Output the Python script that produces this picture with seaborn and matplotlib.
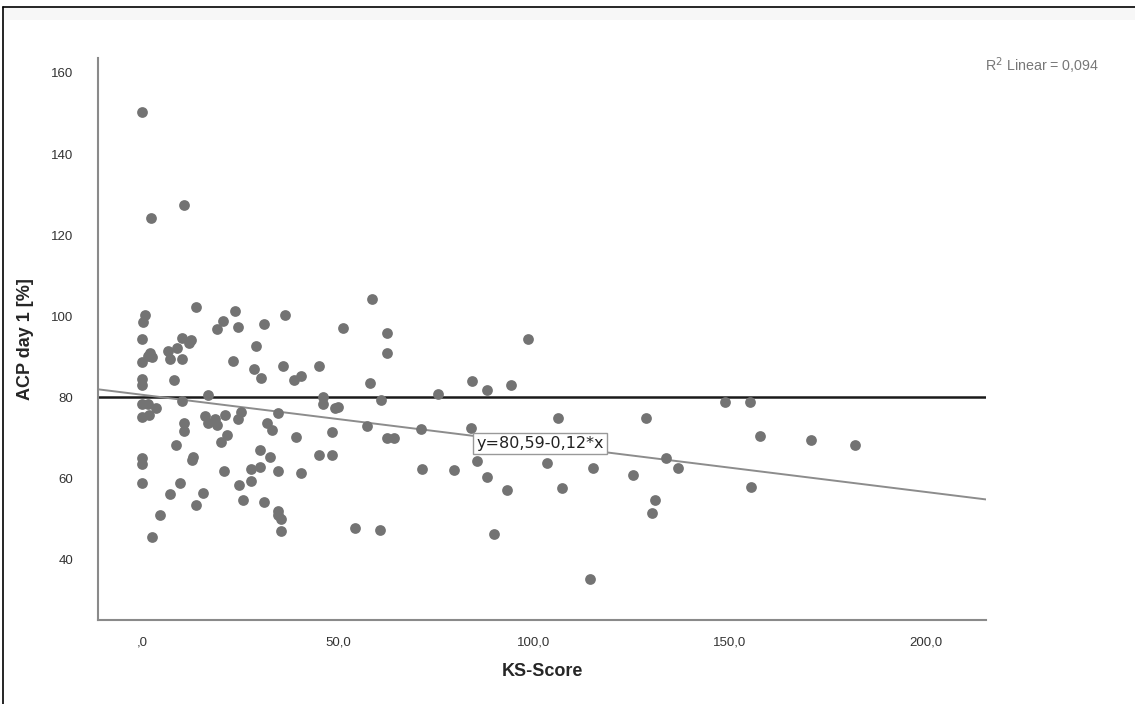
import matplotlib
matplotlib.use("Agg")
import matplotlib.pyplot as plt
import seaborn as sns
import pandas as pd
from matplotlib.lines import Line2D
from matplotlib.patches import Rectangle

# ---- data ----
ks_score = [
    0, 2.3, 10.7, 0.8, 0.2, 13.8, 23.7, 20.6, 19.1, 24.4, 31.2, 36.6,
    0, 10.1, 9.0, 6.7, 12.1, 12.6, 29.0, 2.0, 1.6, 2.5, 0, 7.1, 10.1, 23.3,
    28.6, 36.0, 30.3, 0, 0, 8.2, 16.9, 0, 1.6, 3.6, 10.1, 0, 1.9, 16.1,
    16.9, 18.6, 19.1, 21.2, 24.6, 25.4, 34.6, 10.7, 10.7, 31.8, 33.2, 21.6,
    20.2, 8.8, 30.1, 32.7, 13.1, 12.7, 0, 0, 27.9, 30.1, 21.0, 34.7, 0,
    9.7, 24.7, 27.8, 7.1, 15.5, 25.8, 13.8, 31.2, 34.6, 34.7, 35.6, 35.6,
    4.6, 2.6, 58.8, 51.4, 62.4, 62.4, 38.8, 40.6, 45.2, 58.2, 84.3, 88.1,
    75.6, 46.2, 46.2, 49.2, 50.0, 60.9, 57.5, 71.1, 83.9, 48.4, 39.3, 62.4,
    64.3, 45.2, 48.4, 85.4, 71.4, 79.7, 40.7, 88.0, 54.3, 60.7, 89.8, 98.6,
    94.1, 148.7, 106.2, 128.5, 103.2, 115.1, 125.2, 133.6, 136.7, 93.2,
    107.2, 130.9, 130.2, 114.4, 155.1, 157.7, 170.7, 181.9, 155.3,
]
acp_day1 = [
    150.3, 124.3, 127.3, 100.2, 98.6, 102.3, 101.3, 98.8, 96.8, 97.2, 98.0,
    100.2, 94.3, 94.7, 92.2, 91.4, 93.4, 94.2, 92.7, 91.0, 90.1, 89.8, 88.7,
    89.3, 89.3, 88.9, 86.9, 87.6, 84.7, 84.6, 83.0, 84.3, 80.5, 78.4, 78.4,
    77.4, 79.1, 75.0, 75.6, 75.3, 73.5, 74.5, 73.1, 75.7, 74.7, 76.4, 76.2,
    73.5, 71.6, 73.5, 72.0, 70.6, 69.0, 68.1, 66.9, 65.3, 65.3, 64.6, 64.9,
    63.6, 62.2, 62.8, 61.7, 61.7, 58.7, 58.7, 58.4, 59.3, 56.0, 56.4, 54.6,
    53.5, 54.1, 51.9, 50.9, 49.9, 46.9, 51.0, 45.5, 104.2, 97.1, 95.9, 90.9,
    84.2, 85.3, 87.7, 83.4, 84.0, 81.7, 80.8, 80.1, 78.2, 77.4, 77.6, 79.4,
    72.9, 72.1, 72.5, 71.4, 70.2, 70.0, 69.8, 65.8, 65.6, 64.3, 62.2, 62.0,
    61.2, 60.4, 47.6, 47.2, 46.2, 94.3, 82.9, 78.8, 74.9, 74.9, 63.8, 62.4,
    60.7, 64.9, 62.4, 57.2, 57.7, 54.7, 51.5, 35.0, 78.7, 70.4, 69.5, 68.1,
    57.9,
]
reference_level = 80
fit_intercept = 80.59
fit_slope = -0.12
x_ticks = [0, 50, 100, 150, 200]
x_tick_labels = [",0", "50,0", "100,0", "150,0", "200,0"]
y_ticks = [40, 60, 80, 100, 120, 140, 160]
y_tick_labels = ["40", "60", "80", "100", "120", "140", "160"]
x_label = "KS-Score"
y_label = "ACP day 1 [%]"
fit_label = "y=80,59-0,12*x"
r2_label = "R$^2$ Linear = 0,094"

df = pd.DataFrame({"ks": ks_score, "acp": acp_day1})

# ---- figure ----
sns.set_style("white")
plt.rcParams["font.family"] = ["Liberation Sans", "DejaVu Sans"]

fig = plt.figure(figsize=(11.35, 7.04), dpi=100)
ax = fig.add_axes([98 / 1135, 1 - 620 / 704, (986 - 98) / 1135, (620 - 58) / 704])

sns.scatterplot(data=df, x="ks", y="acp", ax=ax, color="#737373",
                s=60, linewidth=0, alpha=1, zorder=3)

ax.axhline(reference_level, color="#1a1a1a", lw=1.8, zorder=2)
ax.axline((0, fit_intercept), slope=fit_slope, color="#8c8c8c", lw=1.4, zorder=2)

ax.set_xlim(-11.2, 215.3)
ax.set_ylim(25, 163.7)
ax.set_xticks(x_ticks)
ax.set_xticklabels(x_tick_labels)
ax.set_yticks(y_ticks)
ax.set_yticklabels(y_tick_labels)
ax.tick_params(axis="both", length=0, labelsize=9.5, labelcolor="#333333")
ax.tick_params(axis="x", pad=12)
ax.tick_params(axis="y", pad=18)

ax.set_xlabel(x_label, fontsize=13, fontweight="bold", labelpad=10)
ax.set_ylabel(y_label, fontsize=13, fontweight="bold", labelpad=12)

for side in ["top", "right"]:
    ax.spines[side].set_visible(False)
for side in ["left", "bottom"]:
    ax.spines[side].set_color("#8a8a8a")
    ax.spines[side].set_linewidth(1.5)

ax.text(85.3, 68.6, fit_label, fontsize=11.5, color="#222222",
        family=["DejaVu Sans"], ha="left", va="center", zorder=5,
        bbox=dict(boxstyle="square,pad=0.2", fc="white", ec="#999999", lw=1))

fig.text(1042 / 1135, 1 - 66 / 704, r2_label, fontsize=10.3, color="#777777",
         ha="center", va="center")

# outer frame (top and left border with faint shadow)
fig.patches.append(Rectangle((3 / 1135, 1 - 20 / 704), 1, 12 / 704,
                             transform=fig.transFigure, fc="#f7f7f7", ec="none", zorder=0))
fig.lines.append(Line2D([3 / 1135, 1], [1 - 7 / 704, 1 - 7 / 704],
                        transform=fig.transFigure, color="black", lw=1.2))
fig.lines.append(Line2D([3 / 1135, 3 / 1135], [0, 1 - 7 / 704],
                        transform=fig.transFigure, color="black", lw=1.2))

fig.savefig("out.png", dpi=100)
